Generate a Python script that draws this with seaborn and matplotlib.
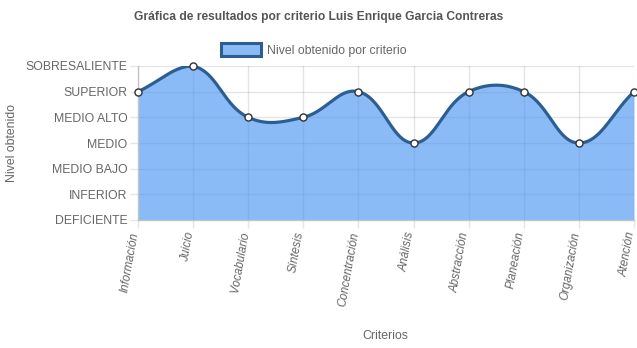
import numpy as np
import pandas as pd
import seaborn as sns
import matplotlib
matplotlib.use("Agg")
import matplotlib.pyplot as plt
from matplotlib.patches import Patch

# Data
criterios = ["Información", "Juicio", "Vocabulario", "Síntesis", "Concentración",
             "Análisis", "Abstracción", "Planeación", "Organización", "Atención"]
niveles = ["DEFICIENTE", "INFERIOR", "MEDIO BAJO", "MEDIO", "MEDIO ALTO",
           "SUPERIOR", "SOBRESALIENTE"]
puntaje = [5, 6, 4, 4, 5, 3, 5, 5, 3, 5]
serie = "Nivel obtenido por criterio"

sns.set_theme(style="white")
plt.rcParams["font.family"] = ["Liberation Sans", "DejaVu Sans"]

W, H = 637, 348
fig = plt.figure(figsize=(W / 100, H / 100), dpi=100)
L, R, T, B = 138, 634, 66, 220
ax = fig.add_axes([L / W, 1 - B / H, (R - L) / W, (B - T) / H])

n = len(criterios)
ymax = len(niveles) - 1
ax.set_xlim(0, n - 1)
ax.set_ylim(0, ymax)

# Smooth curve: cardinal-spline control points computed in pixel space (tension 0.4)
sx = (R - L) / (n - 1)
sy = (B - T) / ymax
P = np.column_stack([np.arange(n) * sx, np.array(puntaje, float) * sy])
t = 0.4
cp_prev = np.zeros_like(P)
cp_next = np.zeros_like(P)
for i in range(n):
    prev = P[i - 1] if i > 0 else P[i]
    nxt = P[i + 1] if i < n - 1 else P[i]
    d01 = np.hypot(*(P[i] - prev))
    d12 = np.hypot(*(nxt - P[i]))
    tot = d01 + d12
    s01 = d01 / tot if tot else 0
    s12 = d12 / tot if tot else 0
    cp_prev[i] = P[i] - t * s01 * (nxt - prev)
    cp_next[i] = P[i] + t * s12 * (nxt - prev)
for cp in (cp_prev, cp_next):
    cp[:, 0] = np.clip(cp[:, 0], 0, (n - 1) * sx)
    cp[:, 1] = np.clip(cp[:, 1], 0, ymax * sy)

xs, ys = [], []
u = np.linspace(0, 1, 60)[:, None]
for i in range(n - 1):
    p0, p1, p2, p3 = P[i], cp_next[i], cp_prev[i + 1], P[i + 1]
    seg = ((1 - u) ** 3) * p0 + 3 * ((1 - u) ** 2) * u * p1 + 3 * (1 - u) * u ** 2 * p2 + u ** 3 * p3
    xs.extend(seg[:, 0] / sx)
    ys.extend(seg[:, 1] / sy)
curva = pd.DataFrame({"x": xs, "y": ys})
puntos = pd.DataFrame({"x": np.arange(n), "y": puntaje})

fill_col = (0.24, 0.56, 0.95, 0.6)
line_col = "#2D5E92"

ax.fill_between(curva["x"], curva["y"], 0, color=fill_col, lw=0, zorder=2)
sns.lineplot(data=curva, x="x", y="y", sort=False, estimator=None,
             color=line_col, lw=2.3, ax=ax, zorder=3)
sns.scatterplot(data=puntos, x="x", y="y", s=26, color="white",
                edgecolor="#333333", linewidth=1.0, ax=ax, zorder=4, clip_on=False)

# Grid, ticks and labels
ax.set_xticks(np.arange(n))
ax.set_yticks(np.arange(len(niveles)))
ax.set_yticklabels(niveles, fontsize=8.8, color="#666666")
ax.set_xticklabels(criterios, fontsize=8.4, color="#666666", rotation=80,
                   rotation_mode="anchor", ha="right", va="baseline", style="italic")
ax.grid(True, color="black", alpha=0.1, lw=1)
ax.set_axisbelow(True)
ax.tick_params(axis="both", which="both", length=6, width=1, color="#e6e6e6",
               left=True, bottom=True, pad=1.5)
ax.tick_params(axis="x", pad=3)
for s in ("top", "right"):
    ax.spines[s].set_visible(False)
for s in ("left", "bottom"):
    ax.spines[s].set_color("#c4c4c4")
    ax.spines[s].set_linewidth(1)

ax.set_xlabel("")
ax.set_ylabel("")
fig.text(385 / W, 1 - 336 / H, "Criterios", ha="center", va="center",
         fontsize=8.8, color="#666666")
fig.text(12 / W, 1 - 143 / H, "Nivel obtenido", ha="center", va="center",
         rotation=90, fontsize=8.8, color="#666666")
fig.text(319 / W, 1 - 17 / H, "Gráfica de resultados por criterio Luis Enrique Garcia Contreras",
         ha="center", va="center", fontsize=8.64, fontweight="bold", color="#555555")

handle = Patch(facecolor=fill_col, edgecolor=line_col, linewidth=2.2, label=serie)
fig.legend(handles=[handle], loc="center", bbox_to_anchor=(314 / W, 1 - 50 / H),
           frameon=False, fontsize=8.8, labelcolor="#666666",
           handlelength=3.27, handleheight=1.15, handletextpad=0.5, borderpad=0)

fig.savefig("out.png", dpi=100)
